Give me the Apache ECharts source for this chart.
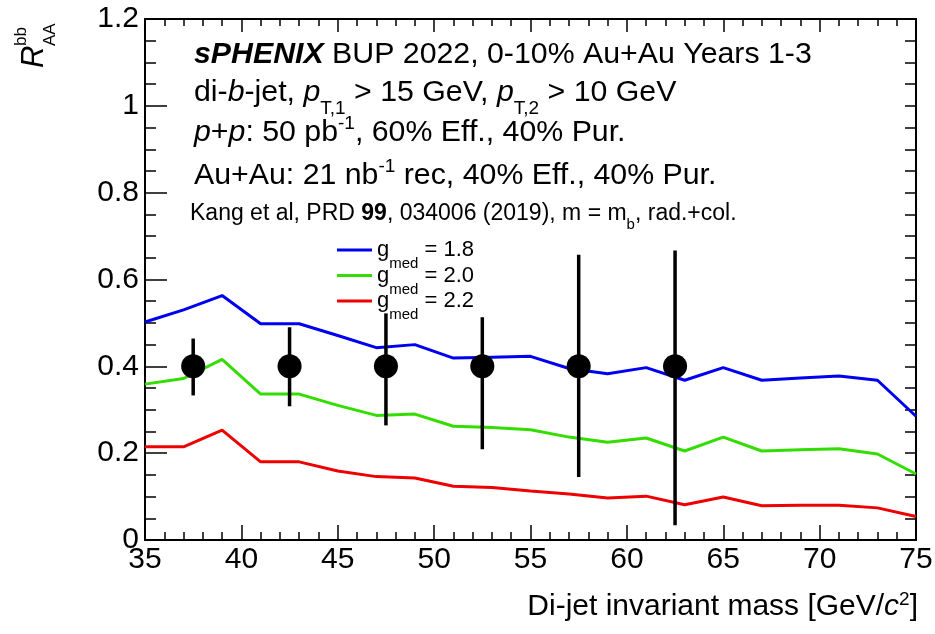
<!DOCTYPE html>
<html><head><meta charset="utf-8">
<script src="https://cdn.jsdelivr.net/npm/echarts@6/dist/echarts.min.js"></script>
<style>html,body{margin:0;padding:0;background:#fff}#c{width:935px;height:634px}</style>
</head><body><div id="c"></div>
<script>
// ---- data ----
const massBins = [35,37,39,41,43,45,47,49,51,53,55,57,59,61,63,65,67,69,71,73,75];
const gmed18 = [0.502,0.530,0.563,0.498,0.498,0.471,0.443,0.450,0.419,0.421,0.423,0.395,0.383,0.397,0.368,0.397,0.368,0.373,0.378,0.368,0.285];
const gmed20 = [0.359,0.372,0.416,0.336,0.336,0.310,0.287,0.290,0.262,0.259,0.254,0.237,0.225,0.235,0.205,0.237,0.205,0.208,0.210,0.198,0.152];
const gmed22 = [0.2145,0.2145,0.253,0.180,0.180,0.159,0.146,0.143,0.124,0.121,0.113,0.106,0.097,0.101,0.081,0.099,0.079,0.080,0.080,0.074,0.054];
const pointX = [37.5,42.5,47.5,52.5,57.5,62.5];
const pointY = [0.4,0.4,0.4,0.4,0.4,0.4];
const errLow = [0.333,0.308,0.264,0.209,0.145,0.034];
const errHigh = [0.464,0.490,0.522,0.513,0.657,0.667];
const seriesNames = ['g18','g20','g22'];
const seriesLabels = ['1.8','2.0','2.2'];
const seriesColors = ['#0000f0','#33dd00','#ee0000'];
const xRange = [35,75], xStep = 5;
const yRange = [0,1.2], yStep = 0.2;

const FONT = '"Liberation Sans", Arial, Helvetica, sans-serif';
const chart = echarts.init(document.getElementById('c'));

function lineSeries(i, vals){
  return {type:'line', name:seriesNames[i], data:massBins.map((x,k)=>[x,vals[k]]),
    symbol:'none', showSymbol:false, lineStyle:{color:seriesColors[i], width:3},
    itemStyle:{color:seriesColors[i]}, z:2, animation:false};
}

const headerFont = 30.3;
const legendRowCenters = [249, 274.5, 300];
const legendTextRich = {
  g:{fontSize:22, fontFamily:FONT, fill:'#000', lineHeight:43, verticalAlign:'middle'},
  s:{fontSize:15, fontFamily:FONT, fill:'#000', lineHeight:15, verticalAlign:'bottom'},
  e:{fontSize:22, fontFamily:FONT, fill:'#000', lineHeight:43, verticalAlign:'middle'}
};
const graphic = [
  {type:'group', x:45, y:68, rotation:Math.PI/2, children:[
    {type:'text', x:0, y:-11, style:{text:'R', font:'italic 31px '+FONT, fill:'#000', verticalAlign:'middle', align:'left'}},
    {type:'text', x:22, y:-24, style:{text:'bb', font:'17px '+FONT, fill:'#000', verticalAlign:'middle', align:'left'}},
    {type:'text', x:22, y:5, style:{text:'AA', font:'17px '+FONT, fill:'#000', verticalAlign:'middle', align:'left'}}
  ]},
  {type:'text', x:194, y:55, style:{text:'{bi|sPHENIX}{n| BUP 2022, 0-10% Au+Au Years 1-3}', verticalAlign:'middle', align:'left',
    rich:{bi:{fontSize:headerFont, fontFamily:FONT, fontStyle:'italic', fontWeight:'bold', fill:'#000', lineHeight:40},
          n:{fontSize:headerFont, fontFamily:FONT, fill:'#000', lineHeight:40}}}},
  {type:'text', x:194, y:93, style:{text:'{n|di-}{i|b}{n|-jet, }{i|p}{s|T,1}{n| > 15 GeV, }{i|p}{s|T,2}{n| > 10 GeV}', verticalAlign:'middle', align:'left',
    rich:{n:{fontSize:headerFont, fontFamily:FONT, fill:'#000', lineHeight:50, verticalAlign:'middle'},
          i:{fontSize:headerFont, fontFamily:FONT, fontStyle:'italic', fill:'#000', lineHeight:50, verticalAlign:'middle'},
          s:{fontSize:19, fontFamily:FONT, fill:'#000', lineHeight:19, verticalAlign:'bottom'}}}},
  {type:'text', x:194, y:133, style:{text:'{i|p}{n|+}{i|p}{n|: 50 pb}{s|-1}{n|, 60% Eff., 40% Pur.}', verticalAlign:'middle', align:'left',
    rich:{n:{fontSize:headerFont, fontFamily:FONT, fill:'#000', lineHeight:38, verticalAlign:'middle'},
          i:{fontSize:headerFont, fontFamily:FONT, fontStyle:'italic', fill:'#000', lineHeight:38, verticalAlign:'middle'},
          s:{fontSize:19, fontFamily:FONT, fill:'#000', lineHeight:19, verticalAlign:'top'}}}},
  {type:'text', x:194, y:176, style:{text:'{n|Au+Au: 21 nb}{s|-1}{n| rec, 40% Eff., 40% Pur.}', verticalAlign:'middle', align:'left',
    rich:{n:{fontSize:headerFont, fontFamily:FONT, fill:'#000', lineHeight:38, verticalAlign:'middle'},
          s:{fontSize:19, fontFamily:FONT, fill:'#000', lineHeight:19, verticalAlign:'top'}}}},
  {type:'text', x:190, y:214, style:{text:'{n|Kang et al, PRD }{b|99}{n|, 034006 (2019), m = m}{s|b}{n|, rad.+col.}', verticalAlign:'middle', align:'left',
    rich:{n:{fontSize:23, fontFamily:FONT, fill:'#000', lineHeight:36, verticalAlign:'middle'},
          b:{fontSize:23, fontFamily:FONT, fontWeight:'bold', fill:'#000', lineHeight:36, verticalAlign:'middle'},
          s:{fontSize:15, fontFamily:FONT, fill:'#000', lineHeight:15, verticalAlign:'bottom'}}}}
].concat(seriesLabels.map((lab,i)=>({
  type:'text', x:377, y:legendRowCenters[i]+1, z:10,
  style:{text:'{g|g}{s|med}{e| = '+lab+'}', verticalAlign:'middle', align:'left', rich:legendTextRich}
})));

const axisLineStyle = {color:'#000', width:2};
const tickStyle = {color:'#000', width:1.5};

// legend key lines: one legend component per entry so each row sits at its own height
const legends = seriesNames.map((n,i)=>({
  orient:'vertical', left:337, top:legendRowCenters[i]-0.5, padding:0, itemWidth:35, itemHeight:3, icon:'rect',
  data:[n], selectedMode:false, formatter:()=>'',
  textStyle:{fontSize:2, color:'#000'}
}));

const option = {
  animation:false,
  backgroundColor:'#fff',
  textStyle:{fontFamily:FONT},
  grid:{left:145, right:19, top:19, bottom:94, outerBoundsMode:'none', containLabel:false},
  legend:legends,
  xAxis:[
    {type:'value', min:xRange[0], max:xRange[1], interval:xStep, position:'bottom',
     axisLine:{show:true, onZero:false, lineStyle:axisLineStyle},
     axisTick:{show:true, inside:true, length:15, lineStyle:tickStyle},
     minorTick:{show:true, splitNumber:5, length:8, lineStyle:tickStyle},
     splitLine:{show:false},
     axisLabel:{color:'#000', fontSize:30, fontFamily:FONT, margin:5},
     name:'{n|Di-jet invariant mass [GeV/}{i|c}{p|2}{n|]}', nameLocation:'end', nameGap:2,
     nameTextStyle:{align:'right', verticalAlign:'top', padding:[50,0,0,0], color:'#000',
       rich:{n:{fontSize:30, fontFamily:FONT, color:'#000', lineHeight:34, verticalAlign:'middle'},
             i:{fontSize:30, fontFamily:FONT, fontStyle:'italic', color:'#000', lineHeight:34, verticalAlign:'middle'},
             p:{fontSize:19, fontFamily:FONT, color:'#000', lineHeight:19, verticalAlign:'top'}}}},
    {type:'value', min:xRange[0], max:xRange[1], interval:xStep, position:'top',
     axisLine:{show:true, onZero:false, lineStyle:axisLineStyle},
     axisTick:{show:true, inside:true, length:13, lineStyle:tickStyle},
     minorTick:{show:true, splitNumber:5, length:7, lineStyle:tickStyle},
     splitLine:{show:false}, axisLabel:{show:false}}
  ],
  yAxis:[
    {type:'value', min:yRange[0], max:yRange[1], interval:yStep, position:'left',
     axisLine:{show:true, onZero:false, lineStyle:axisLineStyle},
     axisTick:{show:true, inside:true, length:22, lineStyle:tickStyle},
     minorTick:{show:true, splitNumber:4, length:11, lineStyle:tickStyle},
     splitLine:{show:false},
     axisLabel:{color:'#000', fontSize:30, fontFamily:FONT, margin:6}},
    {type:'value', min:yRange[0], max:yRange[1], interval:yStep, position:'right',
     axisLine:{show:true, onZero:false, lineStyle:axisLineStyle},
     axisTick:{show:true, inside:true, length:11, lineStyle:tickStyle},
     minorTick:{show:true, splitNumber:4, length:11, lineStyle:tickStyle},
     splitLine:{show:false}, axisLabel:{show:false}}
  ],
  graphic:graphic,
  series:[
    lineSeries(0,gmed18), lineSeries(1,gmed20), lineSeries(2,gmed22),
    {type:'custom', name:'err', data:pointX.map((x,i)=>[x,errLow[i],errHigh[i]]), encode:{x:0,y:[1,2]}, z:3,
     renderItem:(params, api)=>{
       const a = api.coord([api.value(0), api.value(1)]);
       const b = api.coord([api.value(0), api.value(2)]);
       return {type:'line', shape:{x1:a[0],y1:a[1],x2:b[0],y2:b[1]}, style:{stroke:'#000', lineWidth:3.5}};
     }},
    {type:'scatter', name:'data', data:pointX.map((x,i)=>[x,pointY[i]]), symbol:'circle', symbolSize:24,
     itemStyle:{color:'#000', opacity:1}, z:4}
  ]
};
chart.setOption(option);
</script>
</body></html>
